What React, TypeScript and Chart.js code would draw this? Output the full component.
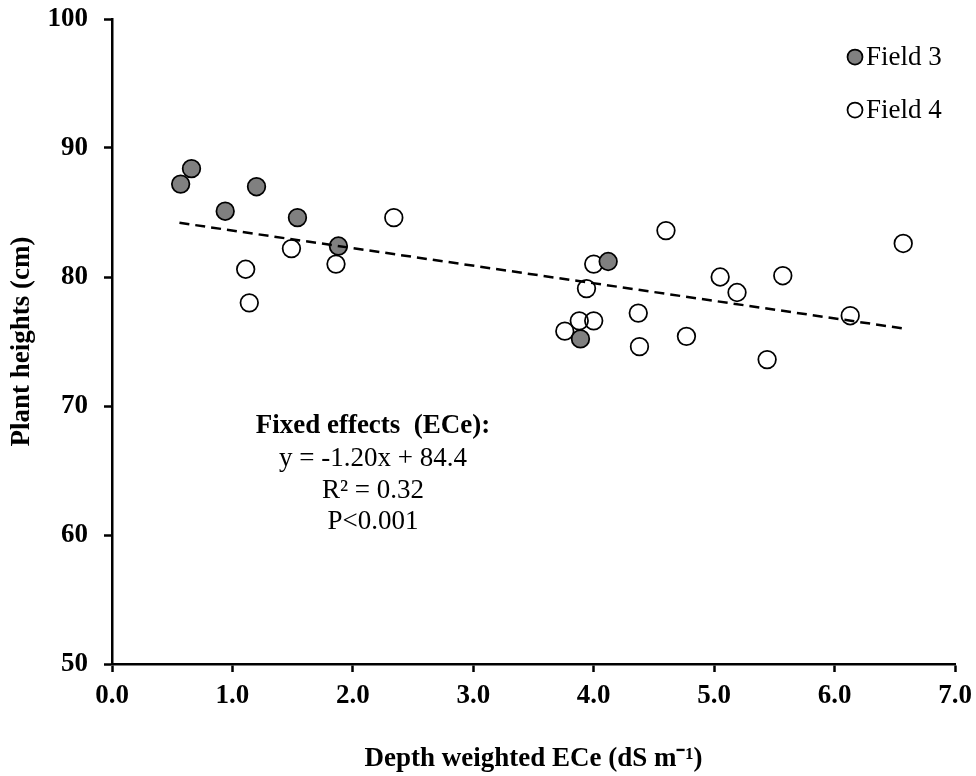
import React, { useEffect, useRef } from "react";
import { Chart, registerables } from "chart.js";

Chart.register(...registerables);

// ---- Data ----
const field3X = [0.57, 0.66, 0.94, 1.2, 1.54, 1.88, 4.12, 3.89];
const field3Y = [87.2, 88.4, 85.1, 87.0, 84.6, 82.4, 81.2, 75.2];

const field4X = [1.11, 1.14, 1.49, 1.86, 2.34, 3.76, 3.88, 3.94, 4.0, 4.0, 4.37, 4.38, 4.6, 4.77, 5.05, 5.19, 5.44, 5.57, 6.13, 6.57];
const field4Y = [80.6, 78.0, 82.2, 81.0, 84.6, 75.8, 76.6, 79.1, 81.0, 76.6, 77.2, 74.6, 83.6, 75.4, 80.0, 78.8, 73.6, 80.1, 77.0, 82.6];

const trendX = [0.56, 6.58];
const trendY = [84.2, 76.0];

const xTickValues = [0, 1, 2, 3, 4, 5, 6, 7];
const yTickValues = [50, 60, 70, 80, 90, 100];

const seriesNames = ["Field 3", "Field 4"];
const xTitle = "Depth weighted ECe (dS m\u207B\u00B9)";
const yTitle = "Plant heights (cm)";
const annotationLines = ["Fixed effects  (ECe):", "y = -1.20x + 84.4", "R\u00B2 = 0.32", "P<0.001"];

const SERIF = "'Liberation Serif', 'Times New Roman', Times, serif";

const zip = (xs: number[], ys: number[]) => xs.map((x, i) => ({ x, y: ys[i] }));

const overlayPlugin = {
  id: "overlay",
  afterDraw(chart: any) {
    const ctx = chart.ctx as CanvasRenderingContext2D;
    ctx.save();
    // Legend
    const legendItems = [
      { label: seriesNames[0], fill: "#808080", cy: 57, base: 65 },
      { label: seriesNames[1], fill: "#ffffff", cy: 110, base: 118 },
    ];
    legendItems.forEach((it) => {
      ctx.beginPath();
      ctx.arc(855, it.cy, 7.5, 0, Math.PI * 2);
      ctx.fillStyle = it.fill;
      ctx.fill();
      ctx.lineWidth = 1.75;
      ctx.strokeStyle = "#000";
      ctx.stroke();
      ctx.fillStyle = "#000";
      ctx.font = `27px ${SERIF}`;
      ctx.textAlign = "left";
      ctx.textBaseline = "alphabetic";
      ctx.fillText(it.label, 866, it.base);
    });
    // Annotation
    const baselines = [433, 465.5, 497.5, 529];
    ctx.textAlign = "center";
    ctx.fillStyle = "#000";
    annotationLines.forEach((line, i) => {
      ctx.font = i === 0 ? `bold 27px ${SERIF}` : `27px ${SERIF}`;
      ctx.fillText(line, 373, baselines[i]);
    });
    ctx.restore();
  },
};

export default function App() {
  const canvasRef = useRef<HTMLCanvasElement | null>(null);

  useEffect(() => {
    if (!canvasRef.current) return;
    const chart = new Chart(canvasRef.current, {
      type: "scatter",
      data: {
        datasets: [
          {
            type: "line",
            label: "trend",
            data: zip(trendX, trendY),
            borderColor: "#000",
            borderWidth: 2.5,
            borderDash: [10, 6],
            pointRadius: 0,
            fill: false,
            order: 0,
          } as any,
          {
            label: seriesNames[0],
            data: zip(field3X, field3Y),
            backgroundColor: "#808080",
            borderColor: "#000",
            borderWidth: 1.75,
            pointRadius: 8.8,
            order: 1,
          },
          {
            label: seriesNames[1],
            data: zip(field4X, field4Y),
            backgroundColor: "rgba(255,255,255,0)",
            borderColor: "#000",
            borderWidth: 1.75,
            pointRadius: 8.8,
            order: 2,
          },
        ],
      },
      options: {
        animation: false,
        responsive: false,
        devicePixelRatio: 1,
        layout: { padding: { left: 0, top: 19, right: 21, bottom: 0 } },
        plugins: {
          legend: { display: false },
          tooltip: { enabled: false },
        },
        scales: {
          x: {
            type: "linear",
            min: 0,
            max: 7,
            afterBuildTicks: (scale: any) => {
              scale.ticks = xTickValues.map((v) => ({ value: v }));
            },
            afterFit: (scale: any) => {
              scale.height = 112;
              scale.paddingLeft = 0;
              scale.paddingRight = 0;
            },
            ticks: {
              color: "#000",
              font: { family: SERIF, size: 27, weight: "bold" },
              padding: 8,
              maxRotation: 0,
              callback: (v: any) => Number(v).toFixed(1),
            },
            grid: {
              drawOnChartArea: false,
              drawTicks: true,
              tickLength: 8,
              tickColor: "#000",
              tickWidth: 2.5,
            },
            border: { color: "#000", width: 2.5 },
            title: {
              display: true,
              text: xTitle,
              color: "#000",
              font: { family: SERIF, size: 27, weight: "bold", lineHeight: 1.2 },
              padding: { top: 0, bottom: 1 },
            },
          },
          y: {
            type: "linear",
            min: 50,
            max: 100,
            afterBuildTicks: (scale: any) => {
              scale.ticks = yTickValues.map((v) => ({ value: v }));
            },
            afterFit: (scale: any) => {
              scale.width = 112;
              scale.paddingTop = 0;
              scale.paddingBottom = 0;
            },
            ticks: {
              color: "#000",
              font: { family: SERIF, size: 27, weight: "bold" },
              padding: 16,
              callback: (v: any) => String(v),
            },
            grid: {
              drawOnChartArea: false,
              drawTicks: true,
              tickLength: 8,
              tickColor: "#000",
              tickWidth: 2.5,
            },
            border: { color: "#000", width: 2.5 },
            title: {
              display: true,
              text: yTitle,
              color: "#000",
              font: { family: SERIF, size: 27, weight: "bold", lineHeight: 1.2 },
              padding: { top: 6, bottom: 0 },
            },
          },
        },
      },
      plugins: [overlayPlugin],
    });
    return () => chart.destroy();
  }, []);

  return (
    <div style={{ position: "fixed", left: 0, top: 0, width: 976, height: 776, background: "#fff" }}>
      <canvas ref={canvasRef} width={976} height={776} style={{ display: "block" }} />
    </div>
  );
}
